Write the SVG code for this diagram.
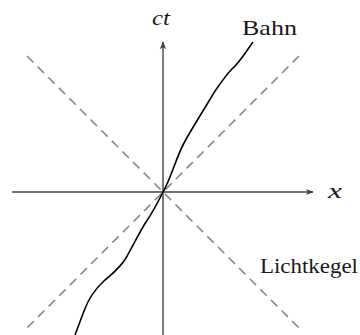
<svg xmlns="http://www.w3.org/2000/svg" width="360" height="335" viewBox="0 0 360 335">
<defs>
<style>
.axis{stroke:#444;stroke-width:1.4;fill:none}
.cone{stroke:#888;stroke-width:1.6;stroke-dasharray:9,6;fill:none}
.path{stroke:#000;stroke-width:1.6;fill:none}
.lbl{font-family:"Liberation Serif","DejaVu Serif",serif;fill:#1a1a1a;font-size:22px}
.it{font-style:italic}
</style>
<marker id="ah" viewBox="0 0 10 10" refX="9" refY="5" markerWidth="8" markerHeight="8" markerUnits="userSpaceOnUse" orient="auto">
<path d="M0,1 L10,5 L0,9 L2.5,5 Z" fill="#444"/>
</marker>
</defs>
<rect width="360" height="335" fill="#fff"/>
<g id="connectors">
<line class="cone" x1="27" y1="56" x2="299" y2="328"/>
<line class="cone" x1="299" y1="56" x2="27" y2="328"/>
<line class="axis" x1="12" y1="192" x2="313" y2="192" marker-end="url(#ah)"/>
<line class="axis" x1="163" y1="335" x2="163" y2="42" marker-end="url(#ah)"/>
<path class="path" d="M253,42 C245,53 240,62 232,69 C226,75 220,84 215,91 C205,108 192,128 184,143 C176,158 171,178 163,192 C157,204 153,212 146,222 C139,233 134,244 126,258 C120,268 112,274 104,281 C94,290 88,300 84,311 C81,319 78,327 75,335"/>
</g>
<g id="ct"><text class="lbl it" x="152" y="25" textLength="18" lengthAdjust="spacingAndGlyphs">ct</text></g>
<g id="x"><text class="lbl it" x="328" y="198" textLength="14" lengthAdjust="spacingAndGlyphs">x</text></g>
<g id="bahn"><text class="lbl" x="242" y="35" textLength="55" lengthAdjust="spacingAndGlyphs">Bahn</text></g>
<g id="lichtkegel"><text class="lbl" x="260" y="273" textLength="98" lengthAdjust="spacingAndGlyphs">Lichtkegel</text></g>
</svg>
